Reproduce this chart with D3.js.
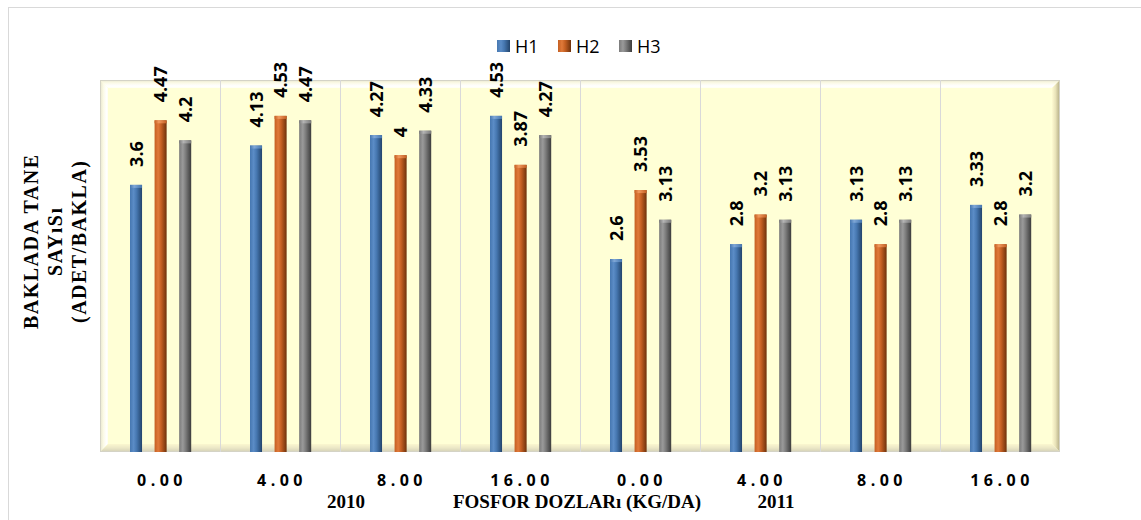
<!DOCTYPE html>
<html>
<head>
<meta charset="utf-8">
<script src="https://cdn.jsdelivr.net/npm/d3@7"></script>
<style>
  body { margin: 0; background: #ffffff; }
  svg { display: block; }
</style>
</head>
<body>
<svg id="chart" width="1141" height="520"></svg>
<script>
// Phosphorus doses (kg/da), two seasons of four doses each
const doses = ["0.00", "4.00", "8.00", "16.00", "0.00", "4.00", "8.00", "16.00"];
const seriesNames = ["H1", "H2", "H3"];
const h1Values = [3.6, 4.13, 4.27, 4.53, 2.6, 2.8, 3.13, 3.33];
const h2Values = [4.47, 4.53, 4, 3.87, 3.53, 3.2, 2.8, 2.8];
const h3Values = [4.2, 4.47, 4.33, 4.27, 3.13, 3.13, 3.13, 3.2];
const yearLabels = ["2010", "2011"];
const xTitle = "FOSFOR DOZLARı (KG/DA)";
const yTitleLines = ["BAKLADA TANE", "SAYıSı", "(ADET/BAKLA)"];

const seriesValues = { H1: h1Values, H2: h2Values, H3: h3Values };
const palette = {
  H1: { light: "#5b8cc6", mid: "#4677b0", dark: "#23446b", cap: "#7fa7d6" },
  H2: { light: "#e07a3a", mid: "#c45f22", dark: "#6e320c", cap: "#f0995e" },
  H3: { light: "#9a9a9a", mid: "#7b7b7b", dark: "#3c3c3c", cap: "#b4b4b4" }
};

const svg = d3.select("#chart");
const plot = { left: 100, right: 1060, top: 81, bottom: 452 };
const bevel = 8;

// chart frame
svg.append("rect")
  .attr("x", 8.5).attr("y", 7.5).attr("width", 1200).attr("height", 600)
  .attr("fill", "#ffffff").attr("stroke", "#d9d9d9");

const defs = svg.append("defs");
function linGrad(id, x1, y1, x2, y2, stops) {
  const g = defs.append("linearGradient").attr("id", id)
    .attr("x1", x1).attr("y1", y1).attr("x2", x2).attr("y2", y2);
  stops.forEach(([o, c]) => g.append("stop").attr("offset", o).attr("stop-color", c));
}
linGrad("bevTop", 0, 0, 0, 1, [[0, "#e9e7cf"], [0.35, "#fbfae6"], [0.75, "#ffffff"], [1, "#fffff2"]]);
linGrad("bevLeft", 0, 0, 1, 0, [[0, "#e6e4cc"], [0.4, "#fbfae4"], [0.8, "#ffffff"], [1, "#fffff0"]]);
linGrad("bevRight", 0, 0, 1, 0, [[0, "#fffbd2"], [0.45, "#e8e2b8"], [1, "#b0a982"]]);
linGrad("bevBottom", 0, 0, 0, 1, [[0, "#fbf7cf"], [0.5, "#ebe7c6"], [1, "#d2cfb6"]]);
seriesNames.forEach(s => {
  const p = palette[s];
  linGrad("bar" + s, 0, 0, 1, 0, [[0, p.mid], [0.3, p.light], [0.55, p.mid], [1, p.dark]]);
  linGrad("cap" + s, 0, 0, 1, 0, [[0, p.mid], [0.35, p.cap], [1, p.mid]]);
});

const x = d3.scaleBand().domain(d3.range(doses.length))
  .range([plot.left, plot.right]).padding(0);
const xs = d3.scaleBand().domain(seriesNames)
  .range([x.bandwidth() * 0.25, x.bandwidth() * 0.76]).paddingInner(0.51);
const y = d3.scaleLinear().domain([0, 5]).range([plot.bottom, plot.top]);

// plot background with bevelled edge
const L = plot.left, R = plot.right, T = plot.top - 1, B = plot.bottom;
svg.append("rect").attr("x", L).attr("y", T).attr("width", R - L).attr("height", B - T)
  .attr("fill", "#ffffd6");
const poly = (pts, fill) => svg.append("polygon")
  .attr("points", pts.map(p => p.join(",")).join(" ")).attr("fill", fill);
poly([[L, T], [R, T], [R - bevel, T + bevel], [L + bevel, T + bevel]], "url(#bevTop)");
poly([[L, T], [L + bevel, T + bevel], [L + bevel, B - bevel], [L, B]], "url(#bevLeft)");
poly([[R, T], [R, B], [R - bevel, B - bevel], [R - bevel, T + bevel]], "url(#bevRight)");
poly([[L, B], [L + bevel, B - bevel], [R - bevel, B - bevel], [R, B]], "url(#bevBottom)");
svg.append("rect").attr("x", L + 0.5).attr("y", T + 0.5).attr("width", R - L - 1).attr("height", B - T - 1)
  .attr("fill", "none").attr("stroke", "#d4d3c6").attr("stroke-width", 1);

// category separators
svg.append("g").selectAll("line")
  .data(d3.range(1, doses.length))
  .join("line")
  .attr("x1", d => x(d) + 0.5).attr("x2", d => x(d) + 0.5)
  .attr("y1", T).attr("y2", B)
  .attr("stroke", "#d9d9d9").attr("stroke-width", 1);

// bars
const barData = [];
doses.forEach((d, i) => seriesNames.forEach(s => barData.push({ i, s, v: seriesValues[s][i] })));

const bars = svg.append("g");
bars.selectAll("rect.bar")
  .data(barData)
  .join("rect")
  .attr("class", "bar")
  .attr("x", d => x(d.i) + xs(d.s))
  .attr("y", d => y(d.v))
  .attr("width", xs.bandwidth())
  .attr("height", d => y(0) - y(d.v))
  .attr("fill", d => "url(#bar" + d.s + ")");
bars.selectAll("rect.cap")
  .data(barData)
  .join("rect")
  .attr("class", "cap")
  .attr("x", d => x(d.i) + xs(d.s))
  .attr("y", d => y(d.v))
  .attr("width", xs.bandwidth())
  .attr("height", 3)
  .attr("fill", d => "url(#cap" + d.s + ")");

// value labels
svg.append("g").selectAll("text")
  .data(barData)
  .join("text")
  .attr("transform", d => `translate(${x(d.i) + xs(d.s) + xs.bandwidth() / 2},${y(d.v) - 18}) rotate(-90)`)
  .attr("dy", "0.36em")
  .attr("text-anchor", "start")
  .attr("font-family", "'Open Sans', sans-serif")
  .attr("font-weight", "bold")
  .attr("font-size", 18)
  .attr("fill", "#000")
  .text(d => String(d.v));

// category axis
const xAxis = d3.axisBottom(x).tickSize(0).tickPadding(0).tickFormat(i => doses[i]);
const gx = svg.append("g").attr("transform", `translate(0,${plot.bottom})`).call(xAxis);
gx.select(".domain").remove();
gx.selectAll("text")
  .attr("y", 34)
  .attr("dy", 0)
  .attr("dx", 2)
  .attr("font-family", "'Open Sans', sans-serif")
  .attr("font-weight", "bold")
  .attr("font-size", 16)
  .attr("letter-spacing", 4.5)
  .attr("fill", "#000");

// axis titles
const serif = "'Liberation Serif', 'Times New Roman', serif";
const titleRow = [
  { x: 346, t: yearLabels[0] },
  { x: 577, t: xTitle },
  { x: 776, t: yearLabels[1] }
];
svg.append("g").selectAll("text").data(titleRow).join("text")
  .attr("x", d => d.x).attr("y", 508).attr("text-anchor", "middle")
  .attr("font-family", serif).attr("font-weight", "bold").attr("font-size", 19)
  .text(d => d.t);

const yt = svg.append("text")
  .attr("transform", "translate(38,242) rotate(-90)")
  .attr("text-anchor", "middle")
  .attr("font-family", serif).attr("font-weight", "bold").attr("font-size", 20)
  .attr("letter-spacing", 1.5);
yTitleLines.forEach((t, k) => yt.append("tspan")
  .attr("x", 0.75).attr("y", k * 24).text(t));

// legend
const legend = svg.append("g").attr("transform", "translate(497,40)");
const legendX = d3.scalePoint().domain(seriesNames).range([0, 122]);
const li = legend.selectAll("g").data(seriesNames).join("g")
  .attr("transform", d => `translate(${legendX(d)},0)`);
li.append("rect").attr("width", 13).attr("height", 12)
  .attr("fill", d => "url(#bar" + d + ")");
li.append("text").attr("x", 18).attr("y", 13)
  .attr("font-family", "'Open Sans', sans-serif").attr("font-size", 18)
  .attr("fill", "#000").text(d => d);
</script>
</body>
</html>
